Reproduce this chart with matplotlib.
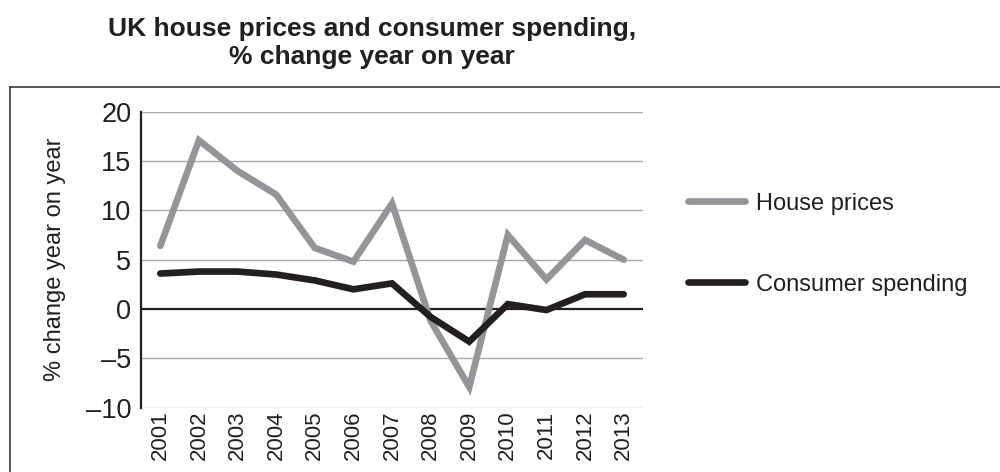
import matplotlib
matplotlib.use("Agg")
import matplotlib.pyplot as plt
from matplotlib.lines import Line2D

plt.rcParams["font.family"] = ["Liberation Sans", "DejaVu Sans"]

# data
years = ["2001", "2002", "2003", "2004", "2005", "2006", "2007",
         "2008", "2009", "2010", "2011", "2012", "2013"]
house_prices = [6.4, 17.1, 14.0, 11.6, 6.2, 4.8, 10.7, -1.2, -7.9, 7.5, 3.0, 7.0, 5.0]
consumer_spending = [3.6, 3.8, 3.8, 3.5, 2.9, 2.0, 2.6, -0.8, -3.3, 0.5, -0.1, 1.5, 1.5]
y_ticks = [-10, -5, 0, 5, 10, 15, 20]

gray = "#939598"
dark = "#231f20"

fig = plt.figure(figsize=(10, 4.72), dpi=100)
ax = fig.add_axes([0.141, 0.1362, 0.502, 0.6271])

x = range(len(years))
ax.plot(x, house_prices, color=gray, lw=4.8, solid_capstyle="round",
        solid_joinstyle="miter", label="House prices", zorder=3)
ax.plot(x, consumer_spending, color=dark, lw=4.8, solid_capstyle="round",
        solid_joinstyle="miter", label="Consumer spending", zorder=4)

ax.set_xlim(-0.5, len(years) - 0.5)
ax.set_ylim(-10, 20)

# grid lines, zero line in black
for v in y_ticks:
    if v == 0:
        ax.axhline(0, color=dark, lw=1.6, zorder=2)
    else:
        ax.axhline(v, color="#a7a9ac", lw=1.0, zorder=1)

for s in ["top", "right", "bottom"]:
    ax.spines[s].set_visible(False)
ax.spines["left"].set_color(dark)
ax.spines["left"].set_linewidth(1.6)

ax.set_yticks(y_ticks)
ax.set_yticklabels([str(v).replace("-", "\u2013") for v in y_ticks])
ax.set_xticks(list(x))
ax.set_xticklabels(years, rotation=90)
ax.tick_params(axis="y", length=0, pad=7, labelsize=19.5, labelcolor=dark)
ax.tick_params(axis="x", length=0, pad=2, labelsize=16, labelcolor=dark)
ax.set_ylabel("% change year on year", fontsize=17, color=dark, labelpad=14)

ax.legend(loc="center left", bbox_to_anchor=(0.688, 0.483),
          bbox_transform=fig.transFigure, frameon=False, fontsize=17,
          handlelength=2.4, handletextpad=0.5, labelspacing=2.5,
          borderpad=0, borderaxespad=0, labelcolor=dark)

fig.text(0.372, 0.909, "UK house prices and consumer spending,\n% change year on year",
         ha="center", va="center", fontsize=19, fontweight="bold", color=dark,
         linespacing=1.2)

# frame around the chart (open on right and bottom)
fig.add_artist(Line2D([0.01, 1.0], [0.8157, 0.8157], color="#3a3a3a", lw=1.2,
                      transform=fig.transFigure))
fig.add_artist(Line2D([0.01, 0.01], [0.0, 0.8157], color="#3a3a3a", lw=1.2,
                      transform=fig.transFigure))

fig.savefig("out.png", dpi=100)
